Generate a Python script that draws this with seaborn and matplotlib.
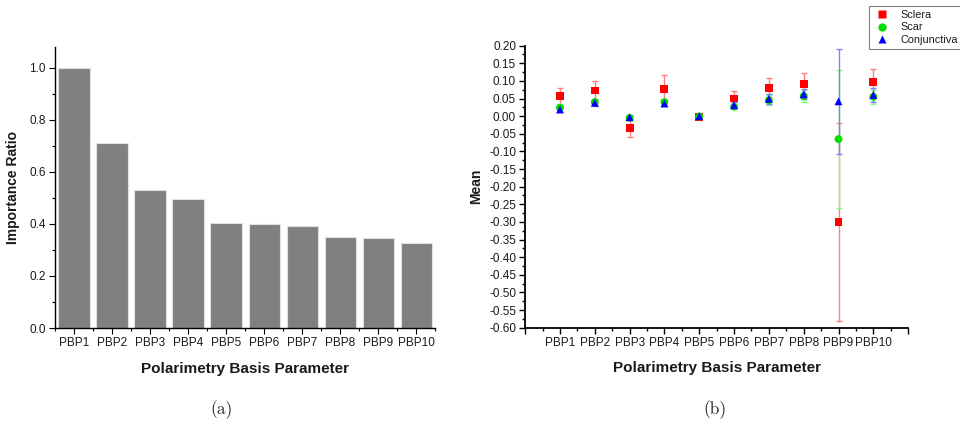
import matplotlib
matplotlib.use("Agg")
import matplotlib.pyplot as plt
from matplotlib.ticker import MultipleLocator, FixedLocator
from matplotlib.lines import Line2D
import numpy as np
import pandas as pd
import seaborn as sns

# ---------------- data ----------------
params = ["PBP1", "PBP2", "PBP3", "PBP4", "PBP5", "PBP6", "PBP7", "PBP8", "PBP9", "PBP10"]
importance = [1.00, 0.71, 0.53, 0.497, 0.402, 0.398, 0.390, 0.348, 0.345, 0.325]

sclera_mean = [0.057, 0.073, -0.034, 0.078, -0.002, 0.050, 0.081, 0.092, -0.300, 0.097]
sclera_err = [0.024, 0.027, 0.025, 0.038, 0.004, 0.021, 0.027, 0.030, 0.282, 0.038]
scar_mean = [0.024, 0.040, -0.005, 0.040, -0.001, 0.027, 0.045, 0.057, -0.065, 0.055]
scar_err = [0.010, 0.008, 0.006, 0.010, 0.004, 0.008, 0.014, 0.016, 0.196, 0.020]
conj_mean = [0.019, 0.038, -0.003, 0.036, 0.000, 0.031, 0.049, 0.062, 0.042, 0.060]
conj_err = [0.008, 0.008, 0.006, 0.008, 0.004, 0.008, 0.015, 0.014, 0.149, 0.020]

groups = ["Sclera", "Scar", "Conjunctiva"]
means = [sclera_mean, scar_mean, conj_mean]
errs = [sclera_err, scar_err, conj_err]
colors = ["#ff0000", "#00e000", "#0000ff"]
err_colors = ["#ff8080", "#80ff80", "#8080ff"]
markers = ["s", "o", "^"]

sns.set_theme(style="white")
plt.rcParams["font.family"] = ["Liberation Sans", "DejaVu Sans"]

fig = plt.figure(figsize=(9.6, 4.26), dpi=100)
TXT = "#1a1a1a"

# ---------------- (a) bar chart ----------------
ax1 = fig.add_axes([0.0573, 0.230, 0.396, 0.660])
df1 = pd.DataFrame({"param": params, "importance": importance})
sns.barplot(data=df1, x="param", y="importance", color="#808080", saturation=1,
            width=0.82, edgecolor="#e0e0e0", linewidth=0.8, ax=ax1)
ax1.set_xlim(-0.5, 9.5)
ax1.set_ylim(0, 1.08)
ax1.yaxis.set_minor_locator(MultipleLocator(0.1))
ax1.xaxis.set_minor_locator(FixedLocator(np.arange(-0.5, 10, 1.0)))
ax1.set_yticks(np.arange(0, 1.01, 0.2))
ax1.set_yticklabels([f"{v:.1f}" for v in np.arange(0, 1.01, 0.2)])
for s in ["top", "right"]:
    ax1.spines[s].set_visible(False)
for s in ["left", "bottom"]:
    ax1.spines[s].set_color("black")
    ax1.spines[s].set_linewidth(1.0)
ax1.tick_params(which="major", direction="out", length=4, width=0.8, color="black",
                labelsize=8.5, labelcolor=TXT, left=True, bottom=True, pad=2.5)
ax1.tick_params(which="minor", direction="out", length=2.5, width=0.8, color="black",
                left=True, bottom=True)
ax1.set_xlabel("Polarimetry Basis Parameter", fontsize=11, fontweight="bold",
               labelpad=9, color=TXT)
ax1.set_ylabel("Importance Ratio", fontsize=10, fontweight="bold", labelpad=7, color=TXT)

# ---------------- (b) mean with error bars ----------------
ax2 = fig.add_axes([0.547, 0.2308, 0.399, 0.662])
xpos = np.arange(1, len(params) + 1)
rows = []
for g, m in zip(groups, means):
    for x, v in zip(xpos, m):
        rows.append({"x": x, "mean": v, "group": g})
df2 = pd.DataFrame(rows)

for m, e, ec in zip(means, errs, err_colors):
    ax2.errorbar(xpos, m, yerr=e, fmt="none", ecolor=ec, elinewidth=1.0,
                 capsize=2.5, capthick=1.0, zorder=2)
sns.scatterplot(data=df2, x="x", y="mean", hue="group", style="group",
                hue_order=groups, style_order=groups,
                palette=dict(zip(groups, colors)), markers=dict(zip(groups, markers)),
                s=32, edgecolor="none", linewidth=0, legend=False, zorder=3, ax=ax2)

ax2.set_xlim(0, 11)
ax2.set_ylim(-0.60, 0.20)
ax2.set_xticks(np.arange(0, 12))
ax2.set_xticklabels([""] + params + [""])
ax2.xaxis.set_minor_locator(FixedLocator(np.arange(0.5, 11, 1.0)))
yt = np.arange(-0.60, 0.2001, 0.05)
ax2.set_yticks(yt)
ax2.set_yticklabels([f"{v:.2f}".replace("-0.00", "0.00") for v in yt])
ax2.yaxis.set_minor_locator(MultipleLocator(0.025))
for s in ["top", "right"]:
    ax2.spines[s].set_visible(False)
for s in ["left", "bottom"]:
    ax2.spines[s].set_color("black")
    ax2.spines[s].set_linewidth(1.3)
ax2.tick_params(which="major", direction="out", length=4, width=1.0, color="black",
                labelsize=8.5, labelcolor=TXT, left=True, bottom=True, pad=2.5)
ax2.tick_params(which="minor", direction="out", length=2.5, width=1.0, color="black",
                left=True, bottom=True)
ax2.set_xlabel("Polarimetry Basis Parameter", fontsize=11, fontweight="bold",
               labelpad=9, color=TXT)
ax2.set_ylabel("Mean", fontsize=10, fontweight="bold", labelpad=4, color=TXT)

handles = [Line2D([0], [0], marker=mk, color="none", markerfacecolor=c,
                  markeredgecolor="none", markersize=6, label=g)
           for g, c, mk in zip(groups, colors, markers)]
leg = fig.legend(handles=handles, loc="upper left", bbox_to_anchor=(869 / 960, 1 - 5.7 / 426),
                 fontsize=7.8, frameon=True, fancybox=False, borderpad=0.4,
                 labelspacing=0.22, handletextpad=0.9, handlelength=1.6,
                 borderaxespad=0)
leg.get_frame().set_edgecolor("#606060")
leg.get_frame().set_linewidth(0.8)
for t in leg.get_texts():
    t.set_color(TXT)

# captions
fig.text(222 / 960, 1 - 410 / 426, "(a)", fontsize=12.5, fontfamily="cmr10",
         ha="center", va="center")
fig.text(715 / 960, 1 - 410 / 426, "(b)", fontsize=12.5, fontfamily="cmr10",
         ha="center", va="center")

fig.savefig("out.png", dpi=100)
